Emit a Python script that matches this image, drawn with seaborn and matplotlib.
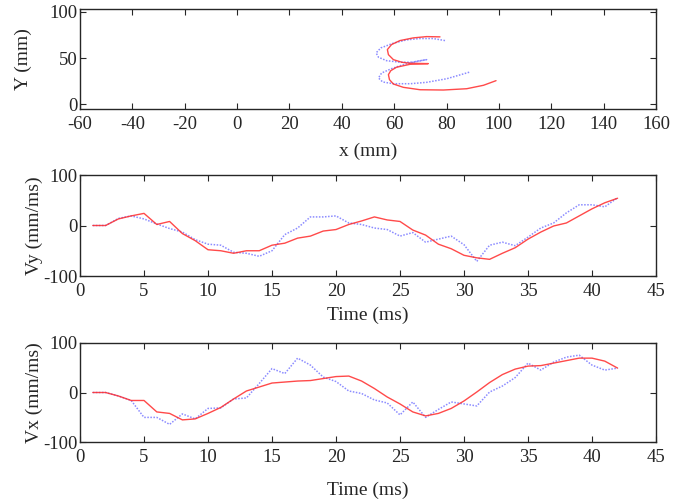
import numpy as np
import pandas as pd
import seaborn as sns
import matplotlib
matplotlib.use("Agg")
import matplotlib.pyplot as plt

# ---- data ----
# Trajectory (top panel), mm
traj_red_x = [77.5, 72.4, 67.3, 62.2, 59.0, 57.4, 57.8, 59.7, 62.9, 66.1, 73.0, 66.1, 60.9,
              58.7, 57.8, 58.2, 59.7, 63.5, 69.9, 78.8, 87.7, 94.1, 98.9]
traj_red_y = [72.9, 73.2, 71.8, 68.9, 64.6, 59.2, 53.7, 48.3, 45.5, 44.4, 44.0, 43.3, 40.1,
              36.4, 32.1, 26.7, 22.0, 18.4, 15.8, 15.5, 16.9, 20.6, 25.6]
traj_blue_x = [79.4, 74.9, 69.9, 64.8, 59.7, 54.9, 53.1, 54.0, 57.1, 62.2, 67.3, 72.4, 68.6,
               63.5, 59.0, 55.2, 54.0, 55.6, 59.7, 66.1, 72.4, 80.1, 89.0]
traj_blue_y = [68.9, 71.1, 71.1, 69.7, 66.1, 61.0, 55.6, 50.9, 47.2, 45.5, 45.5, 48.3, 46.6,
               42.9, 38.6, 33.9, 28.5, 24.2, 22.3, 22.3, 23.8, 27.7, 35.0]

# Velocities vs time (ms)
time_ms = list(range(1, 43))
vy_red = [0, 0, 13, 19, 24, 2, 8, -16, -30, -48, -50, -55, -50, -50, -39, -35, -25, -21, -11, -8,
          2, 9, 17, 11, 8, -9, -19, -37, -46, -59, -64, -67, -55, -44, -27, -13, -1, 5, 19, 33, 45, 54]
vy_blue = [0, 0, 14, 19, 13, 3, -6, -13, -28, -37, -39, -53, -55, -61, -50, -18, -5, 17, 17, 19,
           5, 2, -5, -8, -21, -14, -33, -27, -21, -38, -71, -39, -33, -40, -23, -5, 5, 25, 41, 41, 37, 55]
vx_red = [0, 0, -7, -16, -16, -39, -42, -55, -53, -42, -30, -13, 3, 11, 19, 21, 23, 24, 28, 32,
          33, 23, 8, -9, -23, -39, -47, -42, -32, -17, 1, 20, 36, 47, 53, 54, 59, 64, 69, 69, 63, 49]
vx_blue = [0, 0, -7, -16, -50, -50, -64, -43, -53, -32, -31, -13, -11, 18, 48, 38, 69, 55, 31, 22,
           3, -2, -15, -21, -45, -19, -50, -34, -19, -23, -27, 1, 13, 30, 59, 45, 61, 71, 75, 55, 45, 49]

x_ticks_top = [-60, -40, -20, 0, 20, 40, 60, 80, 100, 120, 140, 160]
y_ticks_top = [0, 50, 100]
t_ticks = [0, 5, 10, 15, 20, 25, 30, 35, 40, 45]
v_ticks = [-100, 0, 100]

# ---- style ----
sns.set_style("ticks")
plt.rcParams['font.family'] = ['Liberation Serif', 'DejaVu Serif']
plt.rcParams['axes.unicode_minus'] = False
plt.rcParams['font.size'] = 14

RED = '#ff2a2a'
BLUE = '#5a5aff'
BLUE_DASH = (0, (1, 1))
TICK_FS = 13.5
LABEL_FS = 14

fig = plt.figure(figsize=(6.76, 5.04), dpi=100)
ax1 = fig.add_axes([80/676, 1-109/504, 576/676, 100/504])
ax2 = fig.add_axes([80/676, 1-276/504, 576/676, 101/504])
ax3 = fig.add_axes([80/676, 1-442.3/504, 576/676, 99.6/504])

sns.lineplot(x=traj_blue_x, y=traj_blue_y, sort=False, estimator=None, ax=ax1,
             color=BLUE, linestyle=BLUE_DASH, linewidth=1.1, alpha=0.7)
sns.lineplot(x=traj_red_x, y=traj_red_y, sort=False, estimator=None, ax=ax1,
             color=RED, linewidth=1.0, alpha=0.85)
ax1.set_xlim(-60, 160)
ax1.set_ylim(-5, 103)
ax1.set_xticks(x_ticks_top)
ax1.set_yticks(y_ticks_top)
ax1.set_xlabel('x (mm)', labelpad=7, fontsize=LABEL_FS)
ax1.set_ylabel('Y (mm)', labelpad=12, fontsize=LABEL_FS)

for ax, red, blue, lab, lp in [(ax2, vy_red, vy_blue, 'Vy (mm/ms)', 4.5),
                               (ax3, vx_red, vx_blue, 'Vx (mm/ms)', 11)]:
    sns.lineplot(x=time_ms, y=blue, ax=ax, color=BLUE, linestyle=BLUE_DASH,
                 linewidth=1.1, alpha=0.7)
    sns.lineplot(x=time_ms, y=red, ax=ax, color=RED, linewidth=1.0, alpha=0.85)
    ax.set_xlim(0, 45)
    ax.set_ylim(-100, 100)
    ax.set_xticks(t_ticks)
    ax.set_yticks(v_ticks)
    ax.set_xlabel('Time (ms)', labelpad=lp, fontsize=LABEL_FS)
    ax.set_ylabel(lab, labelpad=0, fontsize=LABEL_FS)

for ax in (ax1, ax2, ax3):
    ax.tick_params(direction='in', top=True, right=True, length=4, width=0.8,
                   labelsize=TICK_FS)
    ax.tick_params(axis='x', pad=5)
    ax.tick_params(axis='y', pad=2)
    for s in ax.spines.values():
        s.set_linewidth(1.0)
        s.set_visible(True)

fig.savefig('out.png', dpi=100)
